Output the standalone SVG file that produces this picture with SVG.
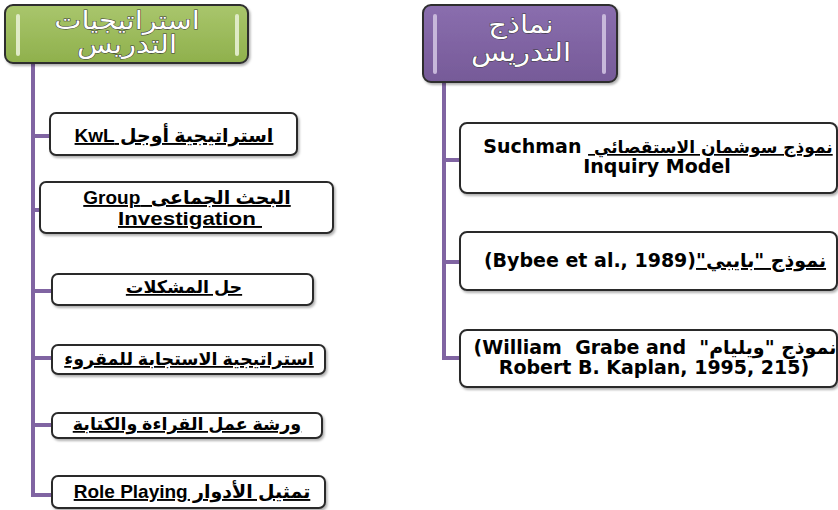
<svg xmlns="http://www.w3.org/2000/svg" width="838" height="510" viewBox="0 0 838 510">
<defs>
<linearGradient id="gGreen" x1="0" y1="0" x2="0" y2="1">
<stop offset="0" stop-color="#a9c66c"/><stop offset="1" stop-color="#8fb04c"/>
</linearGradient>
<linearGradient id="gPurple" x1="0" y1="0" x2="0" y2="1">
<stop offset="0" stop-color="#8a6eae"/><stop offset="1" stop-color="#765a98"/>
</linearGradient>
<filter id="sh" x="-5%" y="-10%" width="110%" height="130%">
<feDropShadow dx="1.5" dy="2" stdDeviation="1.2" flood-color="#000" flood-opacity="0.3"/>
</filter>
</defs>
<style>
.hdr{stroke:#2e2e2e;stroke-width:2}
.bar{stroke-linecap:round;stroke-width:4}
.ht{font-family:"DejaVu Sans",sans-serif;font-size:25px;fill:#fff;stroke:#3a3a3a;stroke-width:1;paint-order:stroke;text-anchor:middle}
.box{fill:#fff;stroke:#2b2b2b;stroke-width:2}
.l{font-family:"Liberation Sans","DejaVu Sans",sans-serif;font-weight:bold;font-size:19px;fill:#000;text-anchor:middle;text-decoration:underline}
.la{font-size:17.5px}
.r{font-family:"DejaVu Sans",sans-serif;font-weight:bold;font-size:19px;fill:#000;text-anchor:middle}
.u{text-decoration:underline}
.con{stroke:#8064a2;stroke-width:4;fill:none}
</style>
<g id="connectors">
<path class="con" d="M33 63V495M33 136H50M33 210H40M33 291H52M33 358H52M33 425H52M31 495H52"/>
<path class="con" d="M444 82V358M444 160H460M444 262H460M442 358H460"/>
</g>
<g id="hdr-strategies">
<rect class="hdr" x="5" y="5" width="243" height="58" rx="8" fill="url(#gGreen)" filter="url(#sh)"/>
<line class="bar" x1="18" y1="16" x2="18" y2="54" stroke="#dfeac6"/>
<line class="bar" x1="237" y1="16" x2="237" y2="54" stroke="#dfeac6"/>
<g transform="translate(127 0) scale(1.16 1)">
<text class="ht" x="0" y="29" direction="rtl">استراتيجيات</text>
<text class="ht" x="0" y="53" direction="rtl">التدريس</text>
</g>
</g>
<g id="hdr-models">
<rect class="hdr" x="423" y="5" width="194" height="77" rx="8" fill="url(#gPurple)" filter="url(#sh)"/>
<line class="bar" x1="435" y1="16" x2="435" y2="72" stroke="#c7b8da"/>
<line class="bar" x1="604" y1="16" x2="604" y2="72" stroke="#c7b8da"/>
<g transform="translate(521 0) scale(1.16 1)">
<text class="ht" x="0" y="33" direction="rtl">نماذج</text>
<text class="ht" x="0" y="61" direction="rtl">التدريس</text>
</g>
</g>
<g id="n-kwl">
<rect class="box" x="50" y="113" width="247" height="42" rx="6" filter="url(#sh)"/>
<text class="l" x="174" y="142" direction="rtl">استراتيجية أوجل KwL</text>
</g>
<g id="n-group">
<rect class="box" x="40" y="182" width="293" height="51" rx="6" filter="url(#sh)"/>
<text class="l" x="187" y="204" direction="rtl">البحث الجماعى &#160;Group</text>
<text class="l" x="190" y="225" textLength="144" lengthAdjust="spacingAndGlyphs">Investigation&#160;</text>
</g>
<g id="n-problem">
<rect class="box" x="52" y="274" width="261" height="31" rx="6" filter="url(#sh)"/>
<text class="l la" x="184" y="293" direction="rtl">حل المشكلات</text>
</g>
<g id="n-response">
<rect class="box" x="52" y="345" width="273" height="29" rx="6" filter="url(#sh)"/>
<text class="l la" x="189" y="365" direction="rtl">استراتيجية الاستجابة للمقروء</text>
</g>
<g id="n-workshop">
<rect class="box" x="52" y="413" width="270" height="25" rx="6" filter="url(#sh)"/>
<text class="l la" x="187" y="430" direction="rtl">ورشة عمل القراءة والكتابة</text>
</g>
<g id="n-role">
<rect class="box" x="52" y="476" width="273" height="32" rx="6" filter="url(#sh)"/>
<text class="l" x="192" y="498" direction="rtl">تمثيل الأدوار Role Playing</text>
</g>
<g id="n-suchman">
<rect class="box" x="460" y="123" width="377" height="70" rx="7" filter="url(#sh)"/>
<text class="r" x="658" y="153" direction="rtl"><tspan class="u" font-size="17">نموذج سوشمان الاستقصائي&#160;</tspan>&#160;Suchman</text>
<text class="r" x="657" y="173">Inquiry Model</text>
</g>
<g id="n-bybee">
<rect class="box" x="460" y="232" width="377" height="58" rx="7" filter="url(#sh)"/>
<text class="r" x="655" y="267" direction="rtl"><tspan class="u">نموذج "بايبي"</tspan>&#x2066;(Bybee et al., 1989)&#x2069;</text>
</g>
<g id="n-grabe">
<rect class="box" x="460" y="330" width="377" height="57" rx="7" filter="url(#sh)"/>
<text class="r" x="655" y="354" direction="rtl">نموذج "ويليام" &#160;&#x2066;(William &#160;Grabe and&#x2069;</text>
<text class="r" x="654" y="374">Robert B. Kaplan, 1995, 215)</text>
</g>
</svg>
